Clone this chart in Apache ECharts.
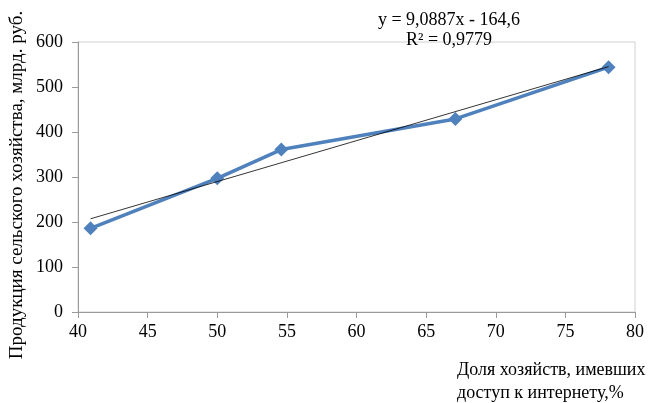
<!DOCTYPE html>
<html><head><meta charset="utf-8">
<script src="https://cdn.jsdelivr.net/npm/echarts@6/dist/echarts.min.js"></script>
<style>html,body{margin:0;padding:0;background:#fff}#c{width:653px;height:403px}</style>
</head><body><div id="c"></div>
<script>
const xValues = [40.9, 50.0, 54.6, 67.1, 78.1];
const yValues = [186, 297, 361, 429, 544];
const trendSlope = 9.0887;
const trendIntercept = -164.6;
const equationText = 'y = 9,0887x - 164,6';
const r2Text = 'R² = 0,9779';
const yTitle = 'Продукция сельского хозяйства, млрд. руб.';
const xTitle = ['Доля хозяйств, имевших', 'доступ к интернету,%'];

const font = '"Liberation Serif", "Times New Roman", serif';
const xMin = Math.min(...xValues), xMax = Math.max(...xValues);
const trendData = [[xMin, trendSlope * xMin + trendIntercept], [xMax, trendSlope * xMax + trendIntercept]];

const chart = echarts.init(document.getElementById('c'));
chart.setOption({
  animation: false,
  grid: { left: 78, right: 18, top: 42, bottom: 91, show: true, borderColor: '#d0d0d0', borderWidth: 1 },
  xAxis: {
    type: 'value', min: 40, max: 80, interval: 5,
    axisLine: { show: true, lineStyle: { color: '#9a9a9a' } },
    axisTick: { show: true, inside: false, length: 6, lineStyle: { color: '#9a9a9a' } },
    axisLabel: { color: '#000', fontFamily: font, fontSize: 18, margin: 11 },
    splitLine: { show: false }
  },
  yAxis: {
    type: 'value', min: 0, max: 600, interval: 100,
    axisLine: { show: true, lineStyle: { color: '#9a9a9a' } },
    axisTick: { show: true, inside: false, length: 6, lineStyle: { color: '#9a9a9a' } },
    axisLabel: { color: '#000', fontFamily: font, fontSize: 18, margin: 15 },
    splitLine: { show: false }
  },
  graphic: [
    { type: 'text', x: 17, y: 185, rotation: Math.PI / 2, style: { text: yTitle, font: '19px ' + font, fill: '#000', textAlign: 'center', textVerticalAlign: 'middle' } },
    { type: 'text', style: { text: equationText, x: 449, y: 20, font: '18px ' + font, fill: '#000', textAlign: 'center', textVerticalAlign: 'middle' } },
    { type: 'text', style: { text: r2Text, x: 449, y: 40, font: '18px ' + font, fill: '#000', textAlign: 'center', textVerticalAlign: 'middle' } },
    { type: 'text', style: { text: xTitle[0], x: 457, y: 370, font: '18px ' + font, fill: '#000', textAlign: 'left', textVerticalAlign: 'middle' } },
    { type: 'text', style: { text: xTitle[1], x: 457, y: 393, font: '18px ' + font, fill: '#000', textAlign: 'left', textVerticalAlign: 'middle' } }
  ],
  series: [
    {
      type: 'line', data: xValues.map((x, i) => [x, yValues[i]]),
      lineStyle: { color: '#4F81BD', width: 3.5 },
      itemStyle: { color: '#4F81BD' },
      symbol: 'diamond', symbolSize: 14, z: 2
    },
    {
      type: 'line', data: trendData, symbol: 'none',
      lineStyle: { color: '#000', width: 0.8 }, z: 3
    }
  ]
});
</script></body></html>
